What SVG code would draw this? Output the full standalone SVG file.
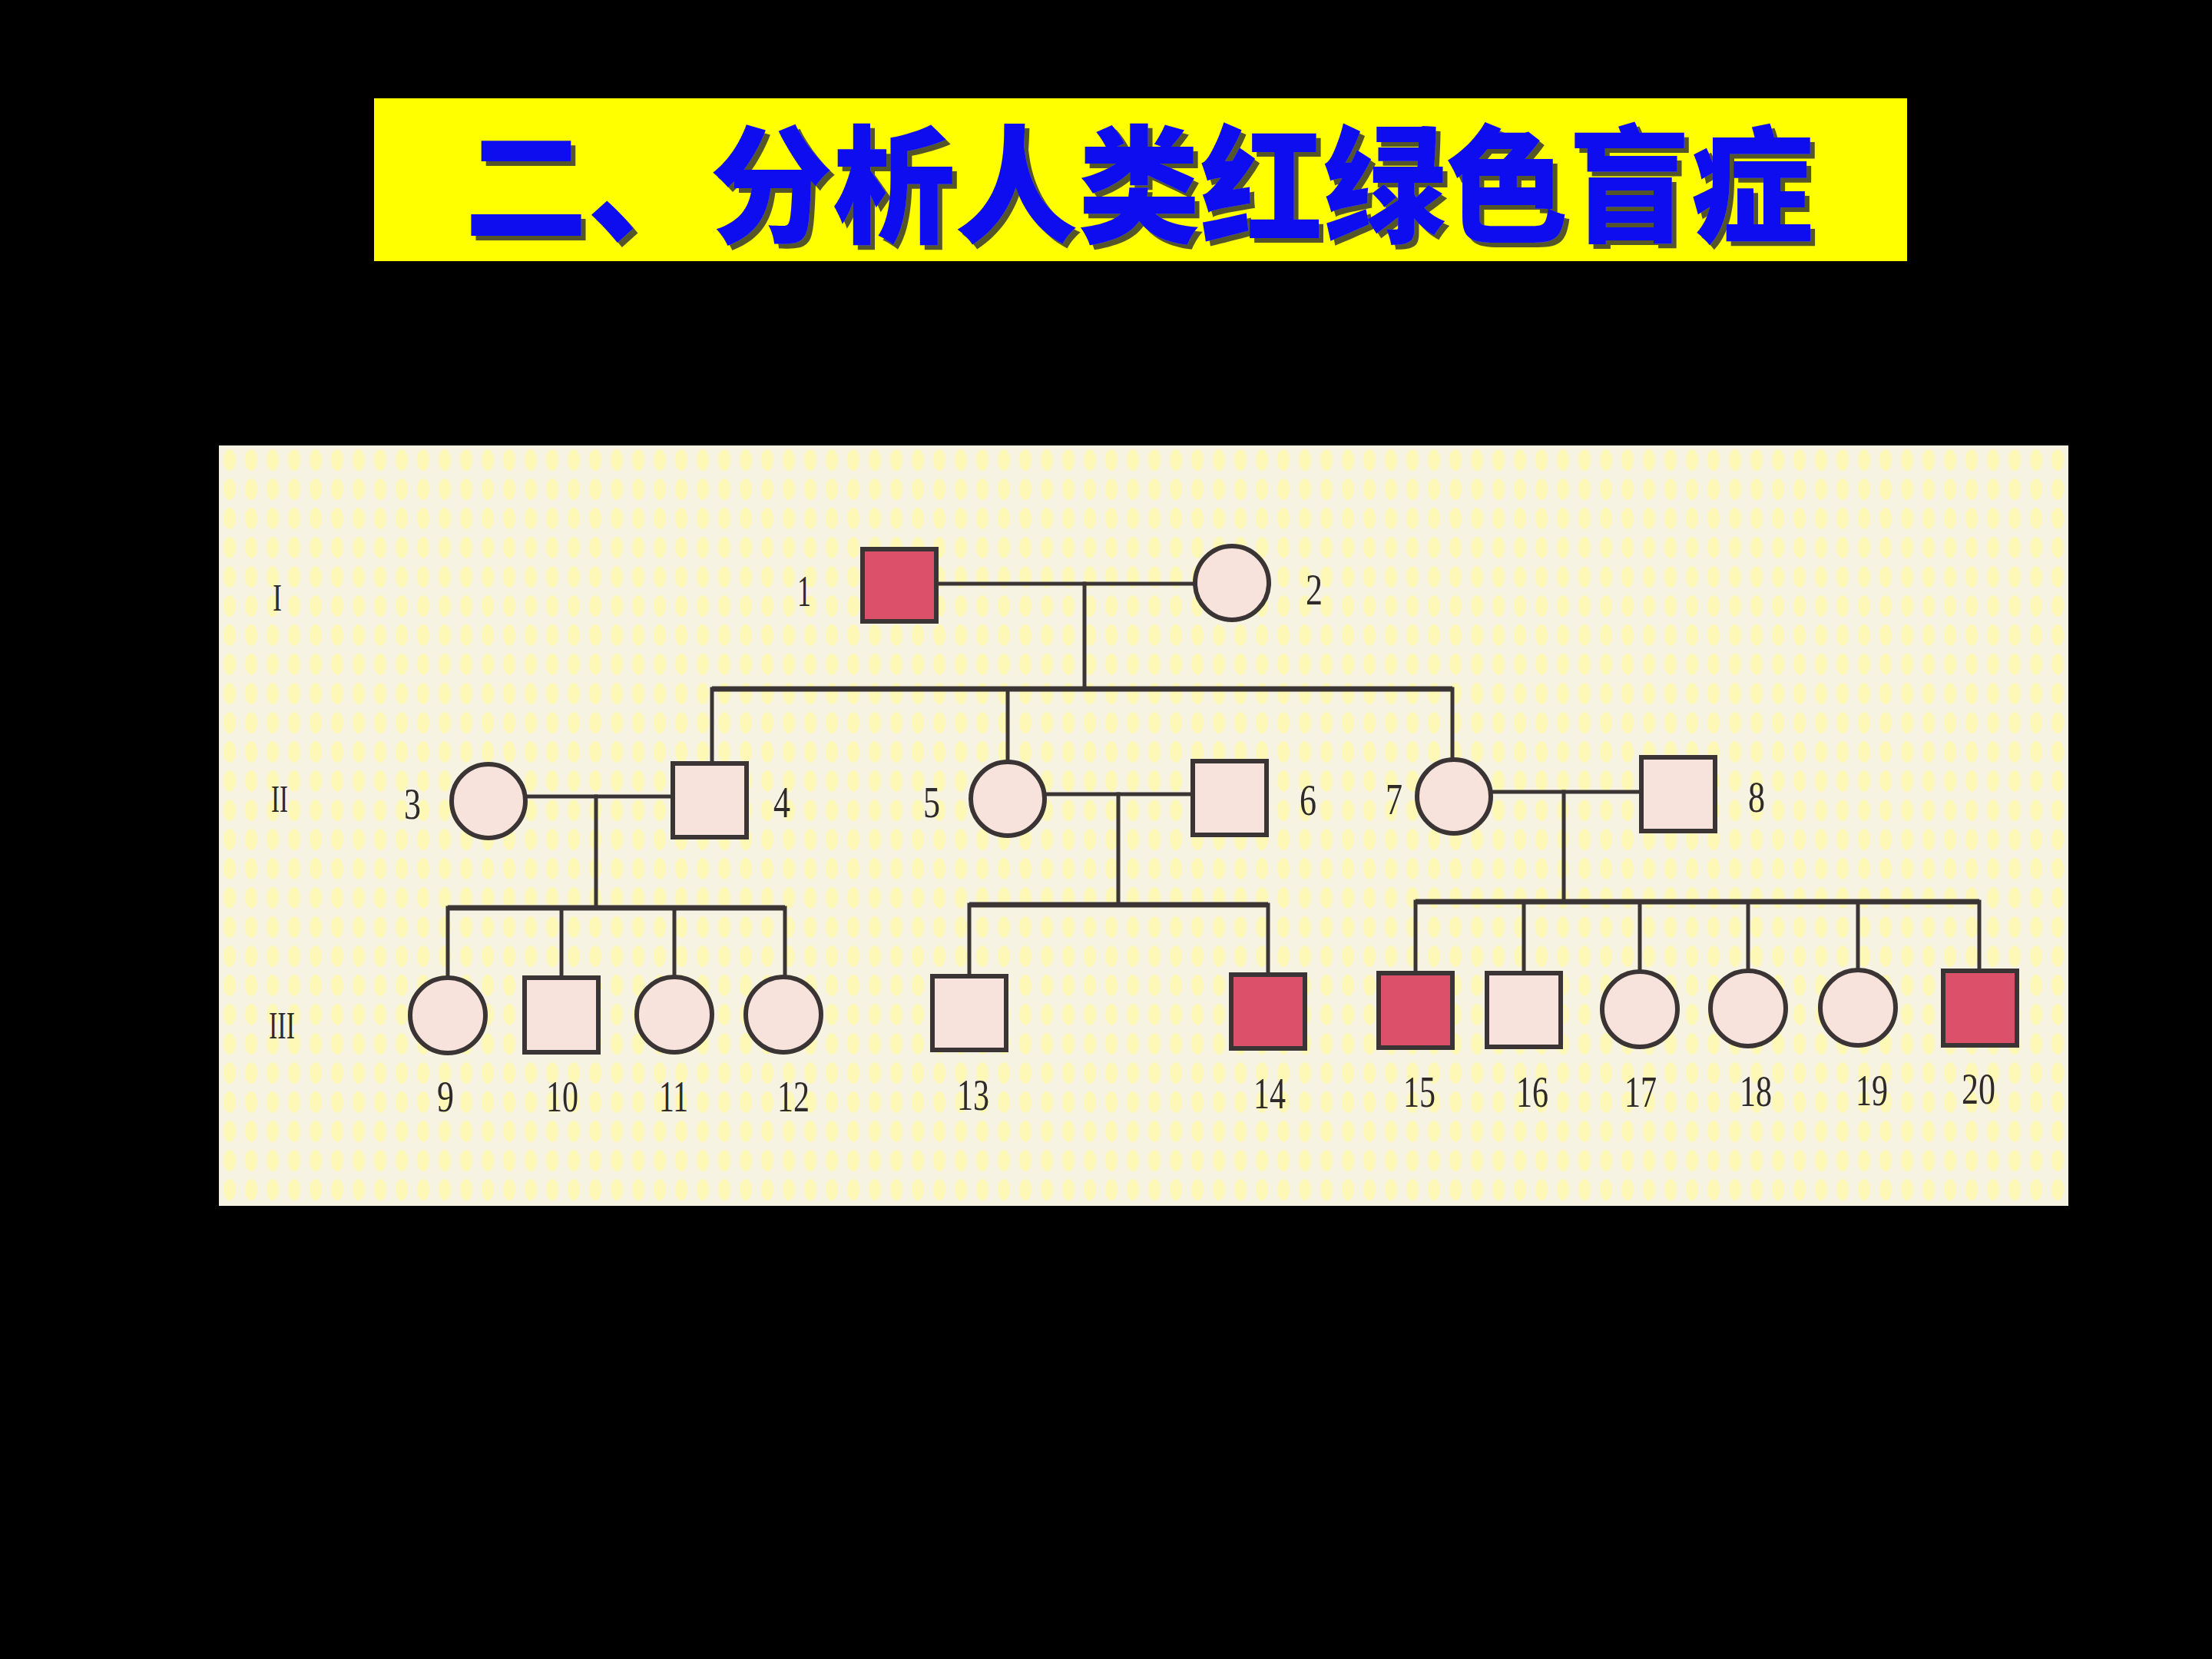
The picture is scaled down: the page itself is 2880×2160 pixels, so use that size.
<svg xmlns="http://www.w3.org/2000/svg" width="2880" height="2160" viewBox="0 0 2880 2160">
<defs>
<pattern id="dots" x="285" y="580" width="28" height="38" patternUnits="userSpaceOnUse">
<rect width="28" height="38" fill="#F7F3E2"/>
<ellipse cx="14" cy="19" rx="8" ry="14" fill="#FDF8B6"/>
</pattern>
<filter id="shadow" x="-5%" y="-20%" width="110%" height="140%">
<feDropShadow dx="6" dy="6" stdDeviation="0" flood-color="#55552A" flood-opacity="1"/>
</filter>
<style>
.line{stroke:#3A3434;stroke-width:5;fill:none;stroke-linecap:square}
.sib{stroke:#3A3434;stroke-width:7;fill:none}
.n{stroke:#3A3434;stroke-width:6}
.aff{fill:#DC5169}
.un{fill:#F7E3DC}
.lbl{font-family:"Liberation Serif","Times New Roman",serif;font-size:56px;fill:#2E2A2A;text-anchor:middle}
.gen{font-family:"Liberation Serif","Times New Roman",serif;font-size:50px;fill:#2E2A2A;text-anchor:middle}
.title{font-family:"Noto Sans CJK SC","Noto Sans CJK JP",sans-serif;font-weight:900;font-size:166px}
</style>
</defs>
<rect width="2880" height="2160" fill="#000000"/>
<g id="title">
<rect x="487" y="128" width="1996" height="212" fill="#FFFF00"/>
<text class="title" x="605" y="303" textLength="1756" lengthAdjust="spacingAndGlyphs" fill="#0A0AF0" filter="url(#shadow)">二、分析人类红绿色盲症</text>
</g>
<rect id="panel" x="285" y="580" width="2408" height="990" fill="url(#dots)"/>
<g id="generations">
<text class="gen" x="361" y="795" textLength="12" lengthAdjust="spacingAndGlyphs">I</text>
<text class="gen" x="364" y="1057" textLength="22" lengthAdjust="spacingAndGlyphs">II</text>
<text class="gen" x="367" y="1352" textLength="34" lengthAdjust="spacingAndGlyphs">III</text>
</g>
<g id="connectors">
<path class="line" d="M1220 760 H1556"/>
<path class="line" d="M1412 760 V897"/>
<path class="sib" d="M927 897 H1891"/>
<path class="line" d="M927 897 V993"/>
<path class="line" d="M1312 897 V992"/>
<path class="line" d="M1891 897 V989"/>
<path class="line" d="M685 1037 H875"/>
<path class="line" d="M776 1037 V1182"/>
<path class="sib" d="M583 1182 H1022"/>
<path class="line" d="M583 1182 V1272"/>
<path class="line" d="M731 1182 V1272"/>
<path class="line" d="M878 1182 V1272"/>
<path class="line" d="M1022 1182 V1272"/>
<path class="line" d="M1360 1034 H1552"/>
<path class="line" d="M1456 1034 V1178"/>
<path class="sib" d="M1262 1178 H1651"/>
<path class="line" d="M1262 1178 V1270"/>
<path class="line" d="M1651 1178 V1268"/>
<path class="line" d="M1941 1031 H2136"/>
<path class="line" d="M2036 1031 V1174"/>
<path class="sib" d="M1843 1174 H2577"/>
<path class="line" d="M1843 1174 V1266"/>
<path class="line" d="M1984 1174 V1266"/>
<path class="line" d="M2135 1174 V1265"/>
<path class="line" d="M2276 1174 V1264"/>
<path class="line" d="M2419 1174 V1263"/>
<path class="line" d="M2577 1174 V1263"/>
</g>
<g id="node1"><rect class="n aff" x="1123" y="715" width="96" height="94"/><text class="lbl" x="1047" y="789" textLength="18" lengthAdjust="spacingAndGlyphs">1</text></g>
<g id="node2"><circle class="n un" cx="1604" cy="759" r="48"/><text class="lbl" x="1711" y="787" textLength="22" lengthAdjust="spacingAndGlyphs">2</text></g>
<g id="node3"><circle class="n un" cx="636" cy="1043" r="48"/><text class="lbl" x="537" y="1066" textLength="22" lengthAdjust="spacingAndGlyphs">3</text></g>
<g id="node4"><rect class="n un" x="876" y="994" width="96" height="96"/><text class="lbl" x="1018" y="1064" textLength="22" lengthAdjust="spacingAndGlyphs">4</text></g>
<g id="node5"><circle class="n un" cx="1312" cy="1040" r="48"/><text class="lbl" x="1213" y="1064" textLength="22" lengthAdjust="spacingAndGlyphs">5</text></g>
<g id="node6"><rect class="n un" x="1553" y="991" width="96" height="96"/><text class="lbl" x="1703" y="1061" textLength="22" lengthAdjust="spacingAndGlyphs">6</text></g>
<g id="node7"><circle class="n un" cx="1893" cy="1037" r="48"/><text class="lbl" x="1815" y="1060" textLength="22" lengthAdjust="spacingAndGlyphs">7</text></g>
<g id="node8"><rect class="n un" x="2137" y="986" width="96" height="96"/><text class="lbl" x="2287" y="1057" textLength="22" lengthAdjust="spacingAndGlyphs">8</text></g>
<g id="node9"><circle class="n un" cx="583" cy="1322" r="49"/><text class="lbl" x="580" y="1447" textLength="22" lengthAdjust="spacingAndGlyphs">9</text></g>
<g id="node10"><rect class="n un" x="683" y="1273" width="96" height="97"/><text class="lbl" x="732" y="1447" textLength="42" lengthAdjust="spacingAndGlyphs">10</text></g>
<g id="node11"><circle class="n un" cx="878" cy="1321" r="49"/><text class="lbl" x="877" y="1447" textLength="38" lengthAdjust="spacingAndGlyphs">11</text></g>
<g id="node12"><circle class="n un" cx="1020" cy="1321" r="49"/><text class="lbl" x="1033" y="1447" textLength="42" lengthAdjust="spacingAndGlyphs">12</text></g>
<g id="node13"><rect class="n un" x="1214" y="1271" width="96" height="96"/><text class="lbl" x="1267" y="1445" textLength="42" lengthAdjust="spacingAndGlyphs">13</text></g>
<g id="node14"><rect class="n aff" x="1603" y="1269" width="96" height="96"/><text class="lbl" x="1653" y="1443" textLength="42" lengthAdjust="spacingAndGlyphs">14</text></g>
<g id="node15"><rect class="n aff" x="1795" y="1267" width="96" height="97"/><text class="lbl" x="1848" y="1441" textLength="42" lengthAdjust="spacingAndGlyphs">15</text></g>
<g id="node16"><rect class="n un" x="1936" y="1267" width="96" height="96"/><text class="lbl" x="1995" y="1441" textLength="42" lengthAdjust="spacingAndGlyphs">16</text></g>
<g id="node17"><circle class="n un" cx="2135" cy="1314" r="49"/><text class="lbl" x="2136" y="1441" textLength="42" lengthAdjust="spacingAndGlyphs">17</text></g>
<g id="node18"><circle class="n un" cx="2276" cy="1313" r="49"/><text class="lbl" x="2286" y="1440" textLength="42" lengthAdjust="spacingAndGlyphs">18</text></g>
<g id="node19"><circle class="n un" cx="2419" cy="1312" r="49"/><text class="lbl" x="2437" y="1439" textLength="42" lengthAdjust="spacingAndGlyphs">19</text></g>
<g id="node20"><rect class="n aff" x="2530" y="1264" width="96" height="97"/><text class="lbl" x="2576" y="1437" textLength="44" lengthAdjust="spacingAndGlyphs">20</text></g>
</svg>
